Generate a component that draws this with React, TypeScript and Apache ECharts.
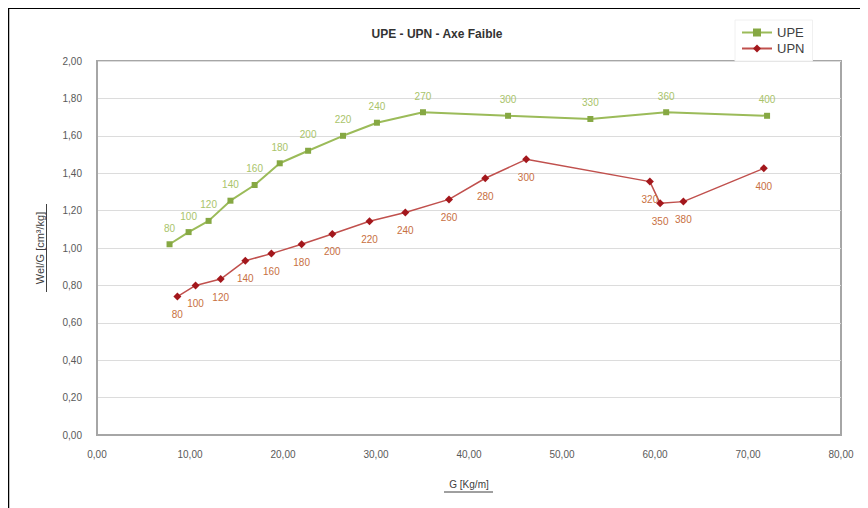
import React, { useEffect, useRef } from "react";
import * as echarts from "echarts";

const upeG = [7.8, 9.85, 12.0, 14.35, 16.95, 19.65, 22.7, 26.45, 30.1, 35.05, 44.2, 53.05, 61.2, 72.05];
const upeV = [1.02, 1.085, 1.145, 1.253, 1.337, 1.453, 1.52, 1.6, 1.67, 1.726, 1.707, 1.69, 1.726, 1.707];
const upeLabels = ["80", "100", "120", "140", "160", "180", "200", "220", "240", "270", "300", "330", "360", "400"];

const upnG = [8.64, 10.6, 13.3, 15.95, 18.75, 22.0, 25.3, 29.3, 33.15, 37.85, 41.75, 46.15, 59.45, 60.55, 63.05, 71.7];
const upnV = [0.74, 0.8, 0.834, 0.932, 0.97, 1.02, 1.075, 1.143, 1.19, 1.26, 1.373, 1.474, 1.355, 1.239, 1.248, 1.426];
const upnLabels = ["80", "100", "120", "140", "160", "180", "200", "220", "240", "260", "280", "300", "320", "350", "380", "400"];

const FONT = "Liberation Sans, Arial, sans-serif";
const fmt = (v: number) => v.toFixed(2).replace(".", ",");

export default function App() {
  const ref = useRef<HTMLDivElement>(null);
  useEffect(() => {
    if (!ref.current) return;
    const chart = echarts.init(ref.current, null, { renderer: "svg" });
    const upeData = upeG.map((g, i) => [g, upeV[i]]);
    const upnData = upnG.map((g, i) => [g, upnV[i]]);
    chart.setOption({
      animation: false,
      backgroundColor: "#fff",
      textStyle: { fontFamily: FONT },
      title: {
        text: "UPE - UPN - Axe Faible",
        left: 424,
        top: 15,
        textAlign: "center",
        textStyle: { fontSize: 12, fontWeight: "bold", color: "#333", fontFamily: FONT },
      },
      legend: {
        left: 727,
        top: 12,
        orient: "vertical",
        itemGap: 3,
        itemWidth: 30,
        itemHeight: 10,
        padding: [6, 8, 6, 6],
        backgroundColor: "#fff",
        borderColor: "#f0f0f0",
        borderWidth: 1,
        textStyle: { fontSize: 13, color: "#404040", fontFamily: FONT },
        data: ["UPE", "UPN"],
      },
      grid: {
        left: 89,
        right: 27,
        top: 53,
        bottom: 73,
        show: true,
        borderColor: "#a6a6a6",
        borderWidth: 2,
      },
      xAxis: {
        type: "value",
        min: 0,
        max: 80,
        interval: 10,
        name: "G [Kg/m]",
        nameLocation: "middle",
        nameGap: 44,
        nameTextStyle: { fontSize: 10, color: "#404040", fontFamily: FONT },
        axisLine: { show: true, lineStyle: { color: "#a6a6a6", width: 2 } },
        axisTick: { show: false },
        splitLine: { show: false },
        axisLabel: { formatter: fmt, fontSize: 10, color: "#595959", margin: 14, fontFamily: FONT },
      },
      yAxis: {
        type: "value",
        min: 0,
        max: 2,
        interval: 0.2,
        name: "Wel/G [cm³/kg]",
        nameLocation: "middle",
        nameGap: 52,
        nameRotate: 90,
        nameTextStyle: { fontSize: 11, color: "#404040", fontFamily: FONT },
        axisLine: { show: true, lineStyle: { color: "#a6a6a6", width: 2 } },
        axisTick: { show: false },
        splitLine: { show: true, lineStyle: { color: "#dcdcdc", width: 1 } },
        axisLabel: { formatter: fmt, fontSize: 10, color: "#595959", margin: 15, fontFamily: FONT },
      },
      graphic: [
        { type: "line", shape: { x1: 0, y1: 0, x2: 860, y2: 0 }, style: { stroke: "#000", lineWidth: 2 }, z: 100 },
        { type: "line", shape: { x1: 0.5, y1: 0, x2: 0.5, y2: 500 }, style: { stroke: "#000", lineWidth: 1.5 }, z: 100 },
        { type: "line", shape: { x1: 38.5, y1: 196, x2: 38.5, y2: 284 }, style: { stroke: "#404040", lineWidth: 1 } },
        { type: "line", shape: { x1: 436, y1: 484, x2: 485, y2: 484 }, style: { stroke: "#404040", lineWidth: 1 } },
      ],
      series: [
        {
          name: "UPE",
          type: "line",
          data: upeData,
          symbol: "rect",
          symbolSize: 6,
          lineStyle: { color: "#9bbb59", width: 2 },
          itemStyle: { color: "#86a843" },
          label: {
            show: true,
            position: "top",
            distance: 8,
            fontSize: 10,
            color: "#a9c46a",
            fontFamily: FONT,
            formatter: (p: any) => upeLabels[p.dataIndex],
          },
        },
        {
          name: "UPN",
          type: "line",
          data: upnData,
          symbol: "diamond",
          symbolSize: 8,
          lineStyle: { color: "#c0504d", width: 1.5 },
          itemStyle: { color: "#a3171c" },
          label: {
            show: true,
            position: "bottom",
            distance: 9,
            fontSize: 10,
            color: "#c8703f",
            fontFamily: FONT,
            formatter: (p: any) => upnLabels[p.dataIndex],
          },
        },
      ],
    });
    return () => chart.dispose();
  }, []);
  return <div ref={ref} style={{ width: 860, height: 500 }} />;
}
